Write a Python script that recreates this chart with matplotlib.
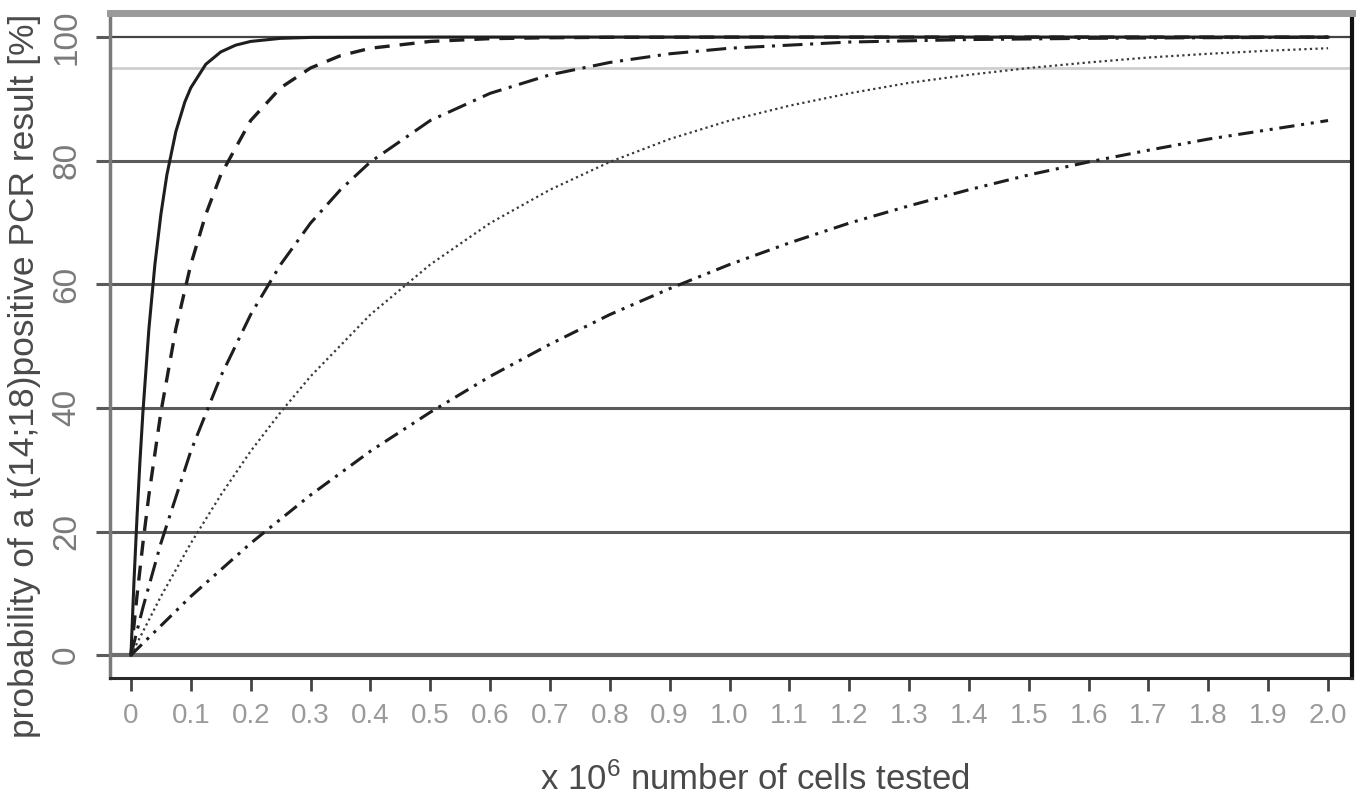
import matplotlib
matplotlib.use("Agg")
import matplotlib.pyplot as plt

plt.rcParams['font.family'] = ['Liberation Sans', 'DejaVu Sans']
plt.rcParams['mathtext.fontset'] = 'custom'
plt.rcParams['mathtext.rm'] = 'Liberation Sans'
plt.rcParams['mathtext.it'] = 'Liberation Sans'

# ---- data (x in 10^6 cells, y in %) ----
x_solid = [0, 0.005, 0.01, 0.015, 0.02, 0.03, 0.04, 0.05, 0.06, 0.075, 0.09, 0.1, 0.125, 0.15, 0.175, 0.2, 0.25, 0.3, 0.5, 1.0, 1.5, 2.0]
y_solid = [0, 11.8, 22.1, 31.3, 39.3, 52.8, 63.2, 71.3, 77.7, 84.7, 89.5, 91.8, 95.6, 97.6, 98.7, 99.3, 99.8, 99.95, 100, 100, 100, 100]

x_dashed = [0, 0.01, 0.02, 0.03, 0.05, 0.075, 0.1, 0.125, 0.15, 0.2, 0.25, 0.3, 0.35, 0.4, 0.5, 0.6, 0.7, 0.8, 1.0, 1.5, 2.0]
y_dashed = [0, 9.5, 18.1, 25.9, 39.3, 52.8, 63.2, 71.3, 77.7, 86.5, 91.8, 95.0, 97.0, 98.2, 99.3, 99.75, 99.9, 99.97, 100, 100, 100]

x_longdash = [0, 0.02, 0.05, 0.1, 0.15, 0.2, 0.25, 0.3, 0.35, 0.4, 0.5, 0.6, 0.7, 0.8, 0.9, 1.0, 1.2, 1.4, 1.6, 1.8, 2.0]
y_longdash = [0, 7.7, 18.1, 33.0, 45.1, 55.1, 63.2, 69.9, 75.3, 79.8, 86.5, 90.9, 93.9, 95.9, 97.3, 98.2, 99.2, 99.6, 99.8, 99.9, 99.97]

x_dotted = [0, 0.05, 0.1, 0.15, 0.2, 0.25, 0.3, 0.4, 0.5, 0.6, 0.7, 0.8, 0.9, 1.0, 1.1, 1.2, 1.3, 1.4, 1.5, 1.6, 1.7, 1.8, 1.9, 2.0]
y_dotted = [0, 9.5, 18.1, 25.9, 33.0, 39.3, 45.1, 55.1, 63.2, 69.9, 75.3, 79.8, 83.5, 86.5, 88.9, 90.9, 92.6, 93.9, 95.0, 95.9, 96.7, 97.3, 97.8, 98.2]

x_dashdotdot = [0, 0.1, 0.2, 0.3, 0.4, 0.5, 0.6, 0.7, 0.8, 0.9, 1.0, 1.1, 1.2, 1.3, 1.4, 1.5, 1.6, 1.7, 1.8, 1.9, 2.0]
y_dashdotdot = [0, 9.5, 18.1, 25.9, 33.0, 39.3, 45.1, 50.3, 55.1, 59.3, 63.2, 66.7, 69.9, 72.7, 75.3, 77.7, 79.8, 81.7, 83.5, 85.0, 86.5]

x_ticks = [0, 0.1, 0.2, 0.3, 0.4, 0.5, 0.6, 0.7, 0.8, 0.9, 1.0, 1.1, 1.2, 1.3, 1.4, 1.5, 1.6, 1.7, 1.8, 1.9, 2.0]
x_ticklabels = ["0", "0.1", "0.2", "0.3", "0.4", "0.5", "0.6", "0.7", "0.8", "0.9", "1.0",
                "1.1", "1.2", "1.3", "1.4", "1.5", "1.6", "1.7", "1.8", "1.9", "2.0"]
y_ticks = [0, 20, 40, 60, 80, 100]
y_ticklabels = ["0", "20", "40", "60", "80", "100"]
ref_level = 95

fig = plt.figure(figsize=(13.61, 8.0), dpi=100)
ax = fig.add_axes([110/1361, 1-678/800, (1352-110)/1361, (678-13)/800])
ax.set_xlim(-0.035, 2.040)
ax.set_ylim(-3.7, 103.9)

# horizontal reference lines
for yv in y_ticks:
    if yv == 0:
        ax.axhline(yv, color='#6e6e6e', lw=3.0, zorder=1)
    elif yv == 100:
        ax.axhline(yv, color='#444444', lw=1.6, zorder=1)
    else:
        ax.axhline(yv, color='#5a5a5a', lw=2.2, zorder=1)
ax.axhline(ref_level, color='#cfcfcf', lw=2.0, zorder=1)

lc = '#1e1e1e'
ax.plot(x_solid, y_solid, color=lc, lw=2.2, ls='-', zorder=3)
ax.plot(x_dashed, y_dashed, color=lc, lw=2.4, ls=(0, (4.5, 3.0)), zorder=3)
ax.plot(x_longdash, y_longdash, color=lc, lw=2.2, ls=(0, (6.5, 2.5, 1.0, 2.5)), zorder=3)
ax.plot(x_dotted, y_dotted, color='#3a3a3a', lw=1.6, ls=(0, (1.0, 1.5)), zorder=3)
ax.plot(x_dashdotdot, y_dashdotdot, color=lc, lw=2.2, ls=(0, (5.0, 2.2, 1.0, 2.2, 1.0, 2.2)), zorder=3)

# spines
ax.spines['top'].set_color('#9a9a9a')
ax.spines['top'].set_linewidth(5)
ax.spines['right'].set_color('#111111')
ax.spines['right'].set_linewidth(3)
ax.spines['left'].set_color('#7a7a7a')
ax.spines['left'].set_linewidth(2.5)
ax.spines['bottom'].set_color('#2a2a2a')
ax.spines['bottom'].set_linewidth(2.2)

ax.set_xticks(x_ticks)
ax.set_xticklabels(x_ticklabels, color='#9a9a9a', fontsize=20)
ax.tick_params(axis='x', direction='out', length=9, width=2.0, color='#444444', pad=9)
ax.set_yticks(y_ticks)
ax.set_yticklabels(y_ticklabels, color='#7a7a7a', fontsize=24, rotation=90, va='center')
ax.tick_params(axis='y', direction='out', length=10, width=2.2, color='#5a5a5a', pad=10)

fig.text(25/1361, 1 - 376/800, "probability of a t(14;18)positive PCR result [%]", color='#4a4a4a',
         fontsize=25.5, rotation=90, ha='center', va='center')
fig.text(755/1361, 10/800, r"x 10$^{6}$ number of cells tested", color='#4a4a4a',
         fontsize=25, ha='center', va='baseline')

fig.savefig("out.png", dpi=100, facecolor='white')
